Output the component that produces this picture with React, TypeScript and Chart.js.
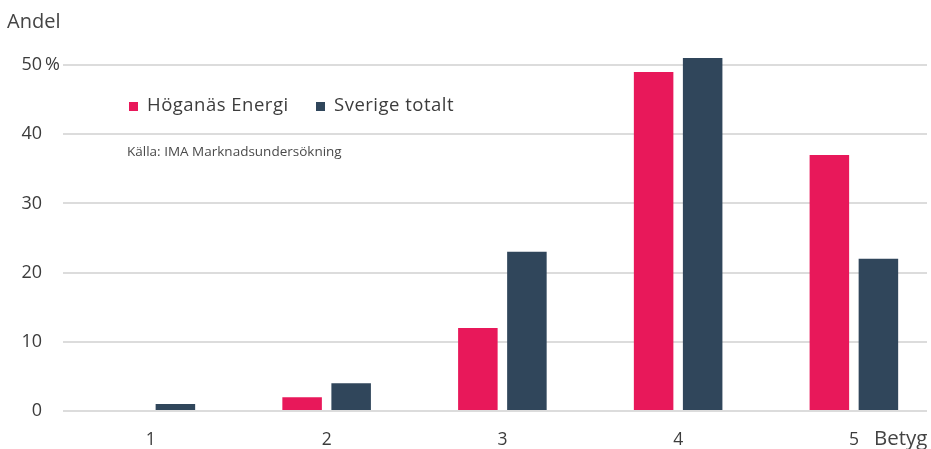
import React, { useEffect, useRef } from 'react';
import { Chart, registerables } from 'chart.js';

Chart.register(...registerables);

const categories = [1, 2, 3, 4, 5];
const seriesNames = ['Höganäs Energi', 'Sverige totalt'];
const hoganasValues = [0, 2, 12, 49, 37];
const sverigeValues = [1, 4, 23, 51, 22];
const yTickValues = [0, 10, 20, 30, 40, 50];
const yAxisTitle = 'Andel';
const xAxisTitle = 'Betyg';
const sourceText = 'Källa: IMA Marknadsundersökning';

const PINK = '#E8185A';
const NAVY = '#30465B';
const FONT = "'Open Sans', 'Noto Sans', sans-serif";
const TEXT = '#3c3c3c';

const overlayPlugin = {
  id: 'overlay',
  afterDraw(chart: any) {
    const ctx = chart.ctx as CanvasRenderingContext2D;
    const y = chart.scales.y;
    ctx.save();
    ctx.textBaseline = 'middle';
    ctx.textAlign = 'left';
    // axis titles
    ctx.fillStyle = '#444';
    ctx.font = `20px ${FONT}`;
    ctx.fillText(yAxisTitle, 7, 22);
    ctx.font = `20.5px ${FONT}`;
    ctx.fillText(xAxisTitle, 874, 439);
    // percent sign after top tick
    ctx.font = `18px ${FONT}`;
    ctx.fillStyle = TEXT;
    ctx.fillText('%', 45, y.getPixelForValue(yTickValues[yTickValues.length - 1]));
    // legend
    const ds = chart.data.datasets;
    const legendX = [129, 316];
    ctx.font = `18.5px ${FONT}`;
    (ctx as any).letterSpacing = '0.5px';
    ds.forEach((d: any, i: number) => {
      ctx.fillStyle = d.backgroundColor;
      ctx.fillRect(legendX[i], 102, 9, 9);
      ctx.fillStyle = TEXT;
      ctx.fillText(d.label, legendX[i] + 18, 106);
    });
    (ctx as any).letterSpacing = '0px';
    // source
    ctx.font = `13.5px ${FONT}`;
    ctx.fillStyle = '#4a4a4a';
    ctx.fillText(sourceText, 127, 152);
    ctx.restore();
  },
};

export default function App() {
  const ref = useRef<HTMLCanvasElement | null>(null);

  useEffect(() => {
    if (!ref.current) return;
    const chart = new Chart(ref.current, {
      type: 'bar',
      data: {
        datasets: [
          {
            label: seriesNames[0],
            data: categories.map((c, i) => ({ x: c, y: hoganasValues[i] })) as any,
            backgroundColor: PINK,
            categoryPercentage: 0.558,
            barPercentage: 0.806,
            clip: false as any,
          },
          {
            label: seriesNames[1],
            data: categories.map((c, i) => ({ x: c, y: sverigeValues[i] })) as any,
            backgroundColor: NAVY,
            categoryPercentage: 0.558,
            barPercentage: 0.806,
            clip: false as any,
          },
        ],
      },
      options: {
        animation: false,
        responsive: true,
        maintainAspectRatio: false,
        layout: { padding: { top: 65, right: 4, left: 0, bottom: 0 } },
        plugins: { legend: { display: false }, tooltip: { enabled: false } },
        scales: {
          x: {
            type: 'linear',
            min: 0.5,
            max: 5.416,
            offset: false,
            grid: { display: false, drawTicks: false },
            border: { display: false },
            afterBuildTicks: (s: any) => {
              s.ticks = categories.map((v) => ({ value: v }));
            },
            afterFit: (s: any) => {
              s.height = 38;
            },
            ticks: {
              padding: 19,
              font: { family: FONT, size: 17.5 },
              color: TEXT,
              maxRotation: 0,
              autoSkip: false,
            },
          },
          y: {
            min: 0,
            max: 50,
            grid: { color: '#dcdcdc', lineWidth: 2, drawTicks: false },
            border: { display: false },
            afterBuildTicks: (s: any) => {
              s.ticks = yTickValues.map((v) => ({ value: v }));
            },
            afterFit: (s: any) => {
              s.width = 63;
            },
            ticks: {
              padding: 21,
              font: { family: FONT, size: 18 },
              color: TEXT,
              crossAlign: 'near',
            },
          },
        } as any,
      },
      plugins: [overlayPlugin],
    });
    return () => chart.destroy();
  }, []);

  return (
    <div style={{ position: 'fixed', left: 0, top: 0, width: 931, height: 449, background: '#fff' }}>
      <canvas ref={ref} />
    </div>
  );
}
